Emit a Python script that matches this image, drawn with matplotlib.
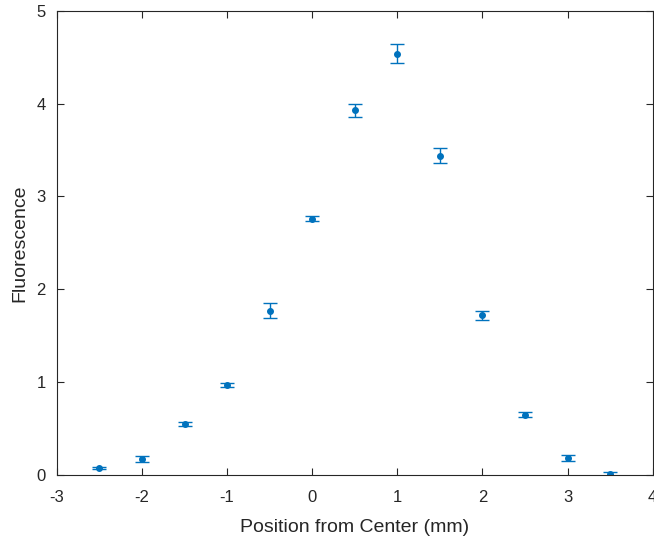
import numpy as np
import matplotlib
matplotlib.use("Agg")
import matplotlib.pyplot as plt

matplotlib.rcParams["font.family"] = ["Liberation Sans", "DejaVu Sans"]
matplotlib.rcParams["axes.unicode_minus"] = False

# 측정 데이터
position = [-2.5, -2.0, -1.5, -1.0, -0.5, 0.0, 0.5, 1.0, 1.5, 2.0, 2.5, 3.0, 3.5]
fluorescence = [0.075, 0.17, 0.55, 0.97, 1.77, 2.76, 3.93, 4.54, 3.44, 1.72, 0.65, 0.18, 0.01]
fluor_err = [0.01, 0.03, 0.02, 0.02, 0.077, 0.026, 0.07, 0.10, 0.084, 0.05, 0.03, 0.03, 0.025]

axis_color = "#262626"
line_color = "#0072BD"

fig = plt.figure(figsize=(6.54, 5.44), dpi=100)
ax = fig.add_axes([0.087, 0.127, 0.911, 0.853])

ax.errorbar(position, fluorescence, yerr=fluor_err, fmt="o", color=line_color,
            markersize=4, capsize=5, elinewidth=1.0, capthick=1.0)

ax.set_xlim(-3, 4)
ax.set_ylim(0, 5)
ax.set_xticks(np.arange(-3, 5, 1))
ax.set_yticks(np.arange(0, 6, 1))

ax.tick_params(direction="in", top=True, right=True, colors=axis_color,
               labelsize=12, length=5, width=0.8)
ax.tick_params(axis="x", pad=11)
ax.tick_params(axis="y", pad=8)
for spine in ax.spines.values():
    spine.set_color(axis_color)
    spine.set_linewidth(0.8)

ax.set_xlabel("Position from Center (mm)", fontsize=14, color=axis_color, labelpad=10)
ax.set_ylabel("Fluorescence", fontsize=14, color=axis_color, labelpad=6)

plt.savefig("out.png", dpi=100)
plt.close()
